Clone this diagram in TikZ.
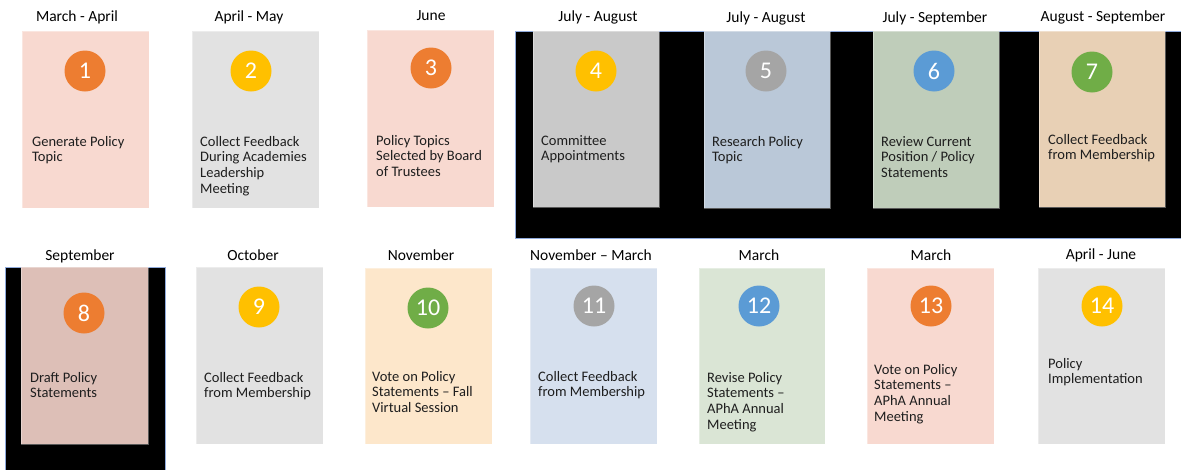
\documentclass[tikz,border=0pt]{standalone}
\usepackage{fontspec}
\setmainfont{Carlito}
\usetikzlibrary{positioning}

\definecolor{salmonbg}{HTML}{F8D9D0}
\definecolor{greybg}{HTML}{E2E2E2}
\definecolor{darkgreybg}{HTML}{C9C9C9}
\definecolor{steelbg}{HTML}{BAC8D8}
\definecolor{sagebg}{HTML}{BFCDBA}
\definecolor{tanbg}{HTML}{E8D0B5}
\definecolor{rosebg}{HTML}{DDBFB7}
\definecolor{peachbg}{HTML}{FDE7CB}
\definecolor{skybg}{HTML}{D6E0EE}
\definecolor{mintbg}{HTML}{DAE5D5}
\definecolor{dotorange}{HTML}{ED7D31}
\definecolor{dotyellow}{HTML}{FFC000}
\definecolor{dotgrey}{HTML}{A5A5A5}
\definecolor{dotblue}{HTML}{5B9BD5}
\definecolor{dotgreen}{HTML}{70AD47}
\definecolor{frameblue}{HTML}{8FAADC}
\definecolor{inktext}{HTML}{1E1E1E}

\tikzset{
  box/.style={draw=white, draw opacity=0.35, line width=0.6pt, anchor=north west, inner sep=0pt},
  num/.style={circle, draw=none, minimum size=41pt, inner sep=0pt, text=white,
    font=\fontsize{24}{28}\selectfont},
  month/.style={inner sep=0pt, text=black, font=\fontsize{15.5}{18}\selectfont},
  desc/.style={anchor=north west, inner sep=0pt, align=left, text=inktext,
    font=\fontsize{14.5}{15.7}\selectfont},
  backdrop/.style={fill=black, draw=frameblue, line width=0.8pt}
}

\begin{document}
\begin{tikzpicture}[x=1pt, y=-1pt]
\useasboundingbox (0,0) rectangle (1181,469);

% black backdrops
\draw[backdrop] (515,31) rectangle (1185,238);
\draw[backdrop] (5,267) rectangle (165,473);

% row one
\node[box, fill=salmonbg, minimum width=127pt, minimum height=177pt] (b1) at (22,31) {};
\node[box, fill=greybg, minimum width=127pt, minimum height=177pt] (b2) at (192,31) {};
\node[box, fill=salmonbg, minimum width=127pt, minimum height=177pt] (b3) at (367,30) {};
\node[box, fill=darkgreybg, minimum width=126pt, minimum height=176pt] (b4) at (533,31) {};
\node[box, fill=steelbg, minimum width=126pt, minimum height=177pt] (b5) at (704,31) {};
\node[box, fill=sagebg, minimum width=126pt, minimum height=177pt] (b6) at (873,31) {};
\node[box, fill=tanbg, minimum width=126pt, minimum height=176pt] (b7) at (1039,31) {};

% row two
\node[box, fill=rosebg, minimum width=127pt, minimum height=177pt] (b8) at (21,267) {};
\node[box, fill=greybg, minimum width=127pt, minimum height=177pt] (b9) at (196,267) {};
\node[box, fill=peachbg, minimum width=127pt, minimum height=176pt] (b10) at (365,268) {};
\node[box, fill=skybg, minimum width=127pt, minimum height=176pt] (b11) at (530,268) {};
\node[box, fill=mintbg, minimum width=126pt, minimum height=176pt] (b12) at (699,268) {};
\node[box, fill=salmonbg, minimum width=127pt, minimum height=176pt] (b13) at (867,268) {};
\node[box, fill=greybg, minimum width=127pt, minimum height=176pt] (b14) at (1038,268) {};

% months
\node[month] (m1) at (77,17) {March - April};
\node[month] (m2) at (249,17) {April - May};
\node[month] (m3) at (431,16) {June};
\node[month] (m4) at (598,17) {July - August};
\node[month] (m5) at (766,18) {July - August};
\node[month] (m6) at (935,18) {July - September};
\node[month] (m7) at (1103,17) {August - September};
\node[month] (m8) at (80,256) {September};
\node[month] (m9) at (253,255) {October};
\node[month] (m10) at (421,255) {November};
\node[month] (m11) at (591,255) {November -- March};
\node[month] (m12) at (759,255) {March};
\node[month] (m13) at (931,255) {March};
\node[month] (m14) at (1101,255) {April - June};

% numbered dots
\node[num, fill=dotorange] (n1) at (85,71) {1};
\node[num, fill=dotyellow] (n2) at (251,71) {2};
\node[num, fill=dotorange] (n3) at (431,68) {3};
\node[num, fill=dotyellow] (n4) at (596,71) {4};
\node[num, fill=dotgrey] (n5) at (766,71) {5};
\node[num, fill=dotblue] (n6) at (934,71) {6};
\node[num, fill=dotgreen] (n7) at (1092,72) {7};
\node[num, fill=dotorange] (n8) at (84,313) {8};
\node[num, fill=dotyellow] (n9) at (259,307) {9};
\node[num, fill=dotgreen] (n10) at (428,308) {10};
\node[num, fill=dotgrey] (n11) at (594,306) {11};
\node[num, fill=dotblue] (n12) at (759,306) {12};
\node[num, fill=dotorange] (n13) at (931,306) {13};
\node[num, fill=dotyellow] (n14) at (1102,306) {14};

% descriptions
\node[desc] (d1) at (32,136) {Generate Policy\\Topic};
\node[desc] (d2) at (200,136) {Collect Feedback\\During Academies\\Leadership\\Meeting};
\node[desc] (d3) at (376,135) {Policy Topics\\Selected by Board\\of Trustees};
\node[desc] (d4) at (541,135) {Committee\\Appointments};
\node[desc] (d5) at (712,136) {Research Policy\\Topic};
\node[desc] (d6) at (881,136) {Review Current\\Position / Policy\\Statements};
\node[desc] (d7) at (1048,134) {Collect Feedback\\from Membership};
\node[desc] (d8) at (30,372) {Draft Policy\\Statements};
\node[desc] (d9) at (204,372) {Collect Feedback\\from Membership};
\node[desc] (d10) at (372,371) {Vote on Policy\\Statements -- Fall\\Virtual Session};
\node[desc] (d11) at (538,371) {Collect Feedback\\from Membership};
\node[desc] (d12) at (707,372) {Revise Policy\\Statements --\\APhA Annual\\Meeting};
\node[desc] (d13) at (874,364) {Vote on Policy\\Statements --\\APhA Annual\\Meeting};
\node[desc] (d14) at (1048,358) {Policy\\Implementation};
\end{tikzpicture}
\end{document}
